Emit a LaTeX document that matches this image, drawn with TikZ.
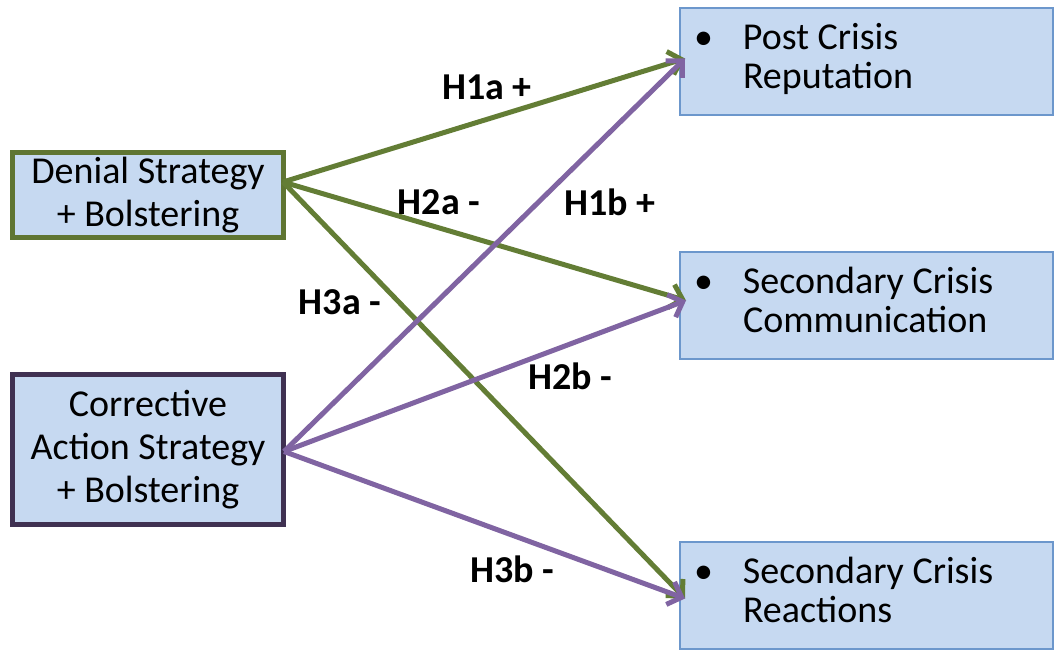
\documentclass[tikz,border=0pt]{standalone}
\usepackage{fontspec}
\setmainfont{Carlito}
\usepackage{xcolor}
\usetikzlibrary{arrows.meta, positioning}
\definecolor{boxfill}{RGB}{198,217,241}
\definecolor{denialgreen}{RGB}{95,117,50}
\definecolor{correctpurple}{RGB}{64,49,82}
\definecolor{outcomeblue}{RGB}{108,151,204}
\definecolor{greenarrow}{RGB}{99,125,53}
\definecolor{purplearrow}{RGB}{128,100,162}
\tikzstyle{strategy} = [rectangle, minimum width=271pt, text centered, align=center, fill=boxfill, line width=5pt]
\tikzstyle{outcome} = [rectangle, minimum width=373pt, minimum height=107pt, inner sep=0pt, fill=boxfill, draw=outcomeblue, line width=2pt]
\tikzstyle{hypo} = [font=\fontsize{38}{43}\selectfont\bfseries]
\tikzstyle{arrow} = [line width=5pt, -{Straight Barb[length=12pt, width=24pt]}]
\newcommand{\bulletbox}[2]{\renewcommand{\arraystretch}{0.9}\begin{tabular}{@{}p{63pt}@{}l@{}}\hspace{14pt}\textbullet & #1\\ & #2\end{tabular}}

\begin{document}
\begin{tikzpicture}[x=1pt, y=-1pt, font=\fontsize{38}{43}\selectfont]
\useasboundingbox (0,0) rectangle (1054,652);

% Strategy boxes
\node (denial) [strategy, draw=denialgreen, minimum height=85pt] at (148,195) {Denial Strategy\\+ Bolstering};
\node (corrective) [strategy, draw=correctpurple, minimum height=150pt] at (148,449.5) {Corrective\\Action Strategy\\+ Bolstering};

% Outcome boxes
\node (post) [outcome] at (866.5,61.5) {\makebox[373pt][l]{\bulletbox{Post Crisis}{Reputation}}};
\node (comm) [outcome] at (866.5,305.5) {\makebox[373pt][l]{\bulletbox{Secondary Crisis}{Communication}}};
\node (react) [outcome] at (866.5,595.5) {\makebox[373pt][l]{\bulletbox{Secondary Crisis}{Reactions}}};

% Arrows from denial
\draw [arrow, greenarrow] ([xshift=-3pt, yshift=13pt]denial.east) -- ([xshift=6pt, yshift=3pt]post.west);
\draw [arrow, greenarrow] ([xshift=-3pt, yshift=13pt]denial.east) -- ([xshift=7pt, yshift=5pt]comm.west);
\draw [arrow, greenarrow] ([xshift=-3pt, yshift=13pt]denial.east) -- ([xshift=6pt, yshift=-3pt]react.west);

% Arrows from corrective action
\draw [arrow, purplearrow] ([xshift=-2pt, yshift=-2pt]corrective.east) -- ([xshift=6pt, yshift=3pt]post.west);
\draw [arrow, purplearrow] ([xshift=-2pt, yshift=-2pt]corrective.east) -- ([xshift=7pt, yshift=5pt]comm.west);
\draw [arrow, purplearrow] ([xshift=-2pt, yshift=-2pt]corrective.east) -- ([xshift=6pt, yshift=-3pt]react.west);

% Hypothesis labels
\node (h1a) [hypo] at (487,87) {H1a +};
\node (h2a) [hypo] at (439,202) {H2a -};
\node (h1b) [hypo] at (610,202) {H1b +};
\node (h3a) [hypo] at (340,302) {H3a -};
\node (h2b) [hypo] at (570,376) {H2b -};
\node (h3b) [hypo] at (512,569) {H3b -};

\end{tikzpicture}
\end{document}
